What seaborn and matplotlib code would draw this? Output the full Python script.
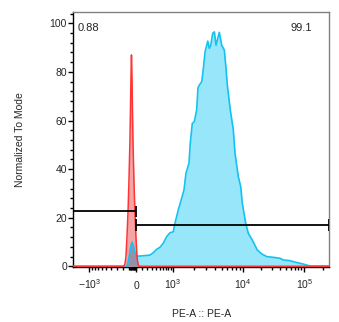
import matplotlib
matplotlib.use("Agg")
import matplotlib.pyplot as plt
import matplotlib.ticker as mticker
import numpy as np
import pandas as pd
import seaborn as sns

#%% Data read off the FlowJo overlay (PE-A value, % of mode)
# unstained control (red)
red_x = [-1790, -180, -165, -150, -135, -120, -106, -91.5, -77, -70, -63,
         -49, -35, -21, -7, 9, 27, 45, 257000]
red_y = [0, 0, 1, 4, 12, 22, 35, 52, 78, 87, 78, 52, 35, 22, 12, 4, 1, 0, 0]

# stained sample (cyan)
cyan_x = [-1790, -135, -106, -84, -63, -42, -21, 0, 63, 157, 259, 327, 417,
          508, 611, 730, 863, 1011, 1072, 1200, 1347, 1456, 1557, 1720, 1795,
          1919, 2050, 2218, 2315, 2424, 2623, 2763, 2920, 3086, 3188, 3358,
          3513, 3750, 3950, 4174, 4410, 4645, 5021, 5463, 5771, 6019, 6633,
          7312, 7724, 8594, 9288, 9782, 11074, 12212, 14198, 17136, 20220,
          24400, 35540, 40240, 45560, 58600, 66340, 96620, 124400, 257000]
cyan_y = [0, 0, 3.4, 7.5, 10, 8.4, 5.5, 4.2, 4.2, 4.4, 4.6, 5.5, 7.0,
          7.8, 9.5, 12.2, 13.8, 14.2, 17.7, 23.2, 28.0, 31.4, 38.3, 42.4, 50.6,
          58.8, 59.5, 64.3, 73.4, 74.6, 76, 81.5, 88.3, 91, 92.7, 89.7,
          91, 95.9, 96.5, 91, 93.8, 96.3, 91, 89, 81.5, 74.6, 64.3,
          56.1, 46.5, 36.9, 32.8, 25.9, 17.7, 13.6, 10.8, 6.7, 5.1,
          4.0, 3.5, 3.3, 2.6, 2.3, 1.9, 0.9, 0.1, 0.1]

# gates: [start, end], height
gate_neg = [-1790, 0]
gate_neg_y = 22.6
gate_pos = [0, 257000]
gate_pos_y = 17.1
gate_labels = ["0.88", "99.1"]

xtick_vals = [-1000, 0, 1000, 10000, 100000]
xtick_labels = [r"$\mathregular{-10^{3}}$", "0", r"$\mathregular{10^{3}}$",
                r"$\mathregular{10^{4}}$", r"$\mathregular{10^{5}}$"]

#%% Biexponential-like display scale (FlowJo style)
biex_vals = np.array([-1e6, -1e3, 0, 1e3, 1e4, 1e5, 1e6])
biex_pos = np.array([-244.0, -47.2, 0.0, 36.5, 106.5, 167.7, 228.9])
biex_g = np.arcsinh(biex_vals / 400)

def biex_fwd(x):
    return np.interp(np.arcsinh(np.asarray(x, dtype=float) / 400), biex_g, biex_pos)

def biex_inv(p):
    return 400 * np.sinh(np.interp(np.asarray(p, dtype=float), biex_pos, biex_g))

#%% Figure
sns.set_style("white")
plt.rcParams['font.family'] = ['Liberation Sans', 'DejaVu Sans']
plt.rcParams['mathtext.fontset'] = 'custom'
plt.rcParams['mathtext.rm'] = 'Liberation Sans'

fig = plt.figure(figsize=(3.39, 3.22), dpi=100)
ax = fig.add_axes([0.2162, 0.1708, 0.7552, 0.7929])
ax.set_xscale('function', functions=(biex_fwd, biex_inv))

red = pd.DataFrame({'x': red_x, 'y': red_y})
cyan = pd.DataFrame({'x': cyan_x, 'y': cyan_y})

# fills
ax.fill_between(cyan['x'], 0, cyan['y'], color='#98e6fa', lw=0, zorder=1)
ax.fill_between(red['x'], 0, red['y'], color='#f6a4a4', lw=0, zorder=2)

# overlap of both histograms (darker, like FlowJo's blended overlay)
grid = np.linspace(biex_fwd(-200), biex_fwd(60), 200)
ov = np.minimum(np.interp(grid, biex_fwd(red['x']), red['y']),
                np.interp(grid, biex_fwd(cyan['x']), cyan['y']))
ax.fill_between(biex_inv(grid), 0, ov, color='#9890a8', lw=0, zorder=3)

# outlines
sns.lineplot(data=cyan, x='x', y='y', color='#14c2f2', lw=1.2,
             estimator=None, sort=False, ax=ax, zorder=4)
sns.lineplot(data=red, x='x', y='y', color='#ff3434', lw=1.1,
             estimator=None, sort=False, ax=ax, zorder=5)

# gates
for (x0, x1), gy in [(gate_neg, gate_neg_y), (gate_pos, gate_pos_y)]:
    ax.hlines(gy, x0, x1, color='black', lw=1.3, zorder=6)
    ax.vlines([x0, x1], gy - 2.4, gy + 2.4, color='black', lw=1.3, zorder=6)

ax.text(0.018, 0.937, gate_labels[0], transform=ax.transAxes, fontsize=8,
        ha='left', va='center')
ax.text(0.934, 0.937, gate_labels[1], transform=ax.transAxes, fontsize=8,
        ha='right', va='center')

# axes
ax.set_xlim(-1790, 257000)
ax.set_ylim(-0.3, 104.8)

ax.set_xticks(xtick_vals)
ax.set_xticklabels(xtick_labels)
minor = ([-k * 100 for k in range(1, 10)] + [-k * 10 for k in range(1, 10)] +
         [k * 100 for k in range(1, 10)] + [k * 1000 for k in range(2, 10)] +
         [k * 10000 for k in range(2, 10)] + [200000])
ax.xaxis.set_minor_locator(mticker.FixedLocator(minor))
ax.set_yticks(np.arange(0, 101, 20))
ax.yaxis.set_minor_locator(mticker.MultipleLocator(4))

ax.tick_params(axis='both', which='major', direction='out', length=3.6,
               width=1, color='black', labelsize=7.5, bottom=True, left=True)
ax.tick_params(axis='both', which='minor', direction='out', length=2.2,
               width=1, color='black', bottom=True, left=True)
ax.tick_params(axis='y', which='major', pad=1)
ax.tick_params(axis='x', which='major', pad=11.9)
for lab in ax.get_xticklabels():
    lab.set_verticalalignment('baseline')

for side in ['top', 'right']:
    ax.spines[side].set_color('#808080')
    ax.spines[side].set_linewidth(1)
for side in ['left', 'bottom']:
    ax.spines[side].set_color('black')
    ax.spines[side].set_linewidth(1)

ax.set_xlabel('PE-A :: PE-A', fontsize=7.5, labelpad=13)
ax.set_ylabel('Normalized To Mode', fontsize=7.5, labelpad=18)

fig.savefig('out.png', dpi=100)
